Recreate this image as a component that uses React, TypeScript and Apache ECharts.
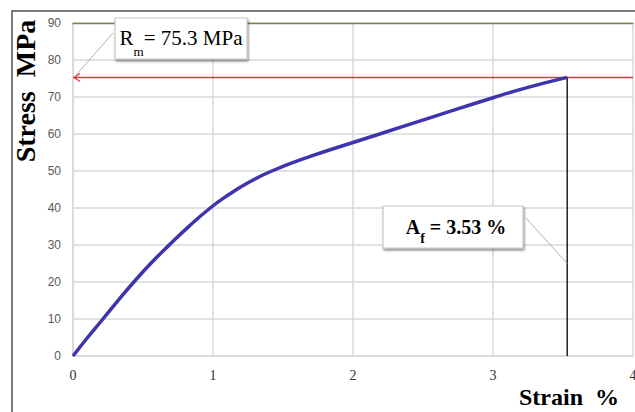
import React, { useEffect, useRef } from "react";
import * as echarts from "echarts";

const strain = [0, 0.1, 0.214, 0.32, 0.43, 0.56, 0.69, 0.83, 0.98, 1.1, 1.25, 1.42, 1.7, 2.0, 2.19, 2.56, 3.0, 3.25, 3.53];
const stress = [0, 4.8, 10, 14.9, 19.8, 25.2, 30.1, 35.1, 40, 43.3, 46.8, 50, 54, 57.7, 60, 64.5, 69.8, 72.6, 75.3];
const RM = 75.3;
const AF = 3.53;
const xTicks = [0, 1, 2, 3, 4];
const yTicks = [0, 10, 20, 30, 40, 50, 60, 70, 80, 90];

export default function App() {
  const ref = useRef<HTMLDivElement>(null);
  useEffect(() => {
    if (!ref.current) return;
    const chart = echarts.init(ref.current, undefined, { renderer: "svg" });
    const serif = "Liberation Serif, Times New Roman, serif";
    chart.setOption({
      animation: false,
      backgroundColor: "#ffffff",
      grid: { left: 73, right: 2, top: 23, bottom: 56, outerBoundsMode: "none" },
      xAxis: [
        {
          type: "value",
          min: xTicks[0],
          max: xTicks[xTicks.length - 1],
          interval: 1,
          axisLine: { show: true, lineStyle: { color: "#d9d9d9", width: 1.5 } },
          axisTick: { show: false },
          axisLabel: { fontFamily: serif, fontSize: 14, color: "#333", margin: 12 },
          splitLine: { show: true, lineStyle: { color: "#d9d9d9", width: 1.5 } },
        },
        {
          type: "value",
          position: "top",
          min: 0,
          max: 4,
          axisLine: { show: true, onZero: false, lineStyle: { color: "#7f7f50", width: 1.3 } },
          axisTick: { show: false },
          axisLabel: { show: false },
          splitLine: { show: false },
        },
      ],
      yAxis: {
        type: "value",
        min: yTicks[0],
        max: yTicks[yTicks.length - 1],
        interval: 10,
        axisLine: { show: true, lineStyle: { color: "#d9d9d9", width: 1.5 } },
        axisTick: { show: false },
        axisLabel: { fontFamily: "Liberation Sans, Arial, sans-serif", fontSize: 12, color: "#595959", margin: 12 },
        splitLine: { show: true, lineStyle: { color: "#d9d9d9", width: 1.5 } },
      },
      series: [
        {
          type: "line",
          data: [[0, RM], [4, RM]],
          symbol: "none",
          lineStyle: { color: "#e0343c", width: 1.5 },
          z: 3,
        },
        {
          type: "line",
          data: [[AF, 0], [AF, RM]],
          symbol: "none",
          lineStyle: { color: "#000", width: 1.3 },
          z: 3,
        },
        {
          type: "line",
          data: strain.map((s, i) => [s, stress[i]]),
          smooth: 0.5,
          symbol: "none",
          lineStyle: { color: "#3e34ae", width: 3.5 },
          z: 4,
        },
      ],
    });

    const tip = chart.convertToPixel({ gridIndex: 0 }, [0, RM]) as number[];
    const afAnchor = chart.convertToPixel({ gridIndex: 0 }, [AF, 25]) as number[];
    const boxShadow = { shadowBlur: 2, shadowOffsetX: 1, shadowOffsetY: 2, shadowColor: "rgba(0,0,0,0.45)" };

    chart.setOption({
      graphic: [
        {
          type: "rect",
          shape: { x: 12, y: 11, width: 640, height: 420 },
          style: { fill: "none", stroke: "#505050", lineWidth: 1.5 },
          z: 10,
        },
        {
          type: "polyline",
          shape: { points: [[tip[0] + 7, tip[1] - 4], [tip[0] + 1, tip[1]], [tip[0] + 7, tip[1] + 4]] },
          style: { fill: "none", stroke: "#e0343c", lineWidth: 1.2 },
          z: 10,
        },
        {
          type: "line",
          shape: { x1: 113, y1: 33, x2: tip[0] + 2, y2: tip[1] - 1 },
          style: { stroke: "#b0b0b0", lineWidth: 1 },
          z: 10,
        },
        {
          type: "rect",
          shape: { x: 115, y: 18, width: 132, height: 41 },
          style: { fill: "#fff", stroke: "#c8c8c8", lineWidth: 1.2, ...boxShadow },
          z: 11,
        },
        {
          type: "text",
          x: 181,
          y: 38,
          style: {
            text: "{n|R}{s|m}{n|= 75.3 MPa}",
            align: "center",
            verticalAlign: "middle",
            fill: "#000",
            rich: {
              n: { fontFamily: serif, fontSize: 21, fill: "#000", lineHeight: 24, verticalAlign: "middle" },
              s: { fontFamily: serif, fontSize: 13, fill: "#000", lineHeight: 24, verticalAlign: "bottom", padding: [0, 0, -8, 0] },
            },
          },
          z: 12,
        },
        {
          type: "line",
          shape: { x1: 526, y1: 218, x2: afAnchor[0], y2: afAnchor[1] },
          style: { stroke: "#b0b0b0", lineWidth: 1 },
          z: 10,
        },
        {
          type: "rect",
          shape: { x: 383, y: 206, width: 140, height: 42 },
          style: { fill: "#fff", stroke: "#c8c8c8", lineWidth: 1.2, ...boxShadow },
          z: 11,
        },
        {
          type: "text",
          x: 456,
          y: 227,
          style: {
            text: "{n|A}{s|f}{n| = 3.53 %}",
            align: "center",
            verticalAlign: "middle",
            fill: "#000",
            rich: {
              n: { fontFamily: serif, fontSize: 20, fontWeight: "bold", fill: "#000", lineHeight: 24, verticalAlign: "middle" },
              s: { fontFamily: serif, fontSize: 14, fontWeight: "bold", fill: "#000", lineHeight: 24, verticalAlign: "bottom", padding: [0, 0, -6, 0] },
            },
          },
          z: 12,
        },
        {
          type: "text",
          x: 25,
          y: 91,
          rotation: Math.PI / 2,
          style: {
            text: "Stress  MPa",
            fontFamily: serif,
            fontSize: 28,
            fontWeight: "bold",
            fill: "#000",
            align: "center",
            verticalAlign: "middle",
          },
          z: 10,
        },
        {
          type: "text",
          x: 519,
          y: 397,
          style: {
            text: "Strain  %",
            fontFamily: serif,
            fontSize: 24,
            fontWeight: "bold",
            fill: "#000",
            align: "left",
            verticalAlign: "middle",
          },
          z: 10,
        },
      ],
    });
    return () => chart.dispose();
  }, []);
  return <div ref={ref} style={{ position: "fixed", left: 0, top: 0, width: 635, height: 412 }} />;
}
